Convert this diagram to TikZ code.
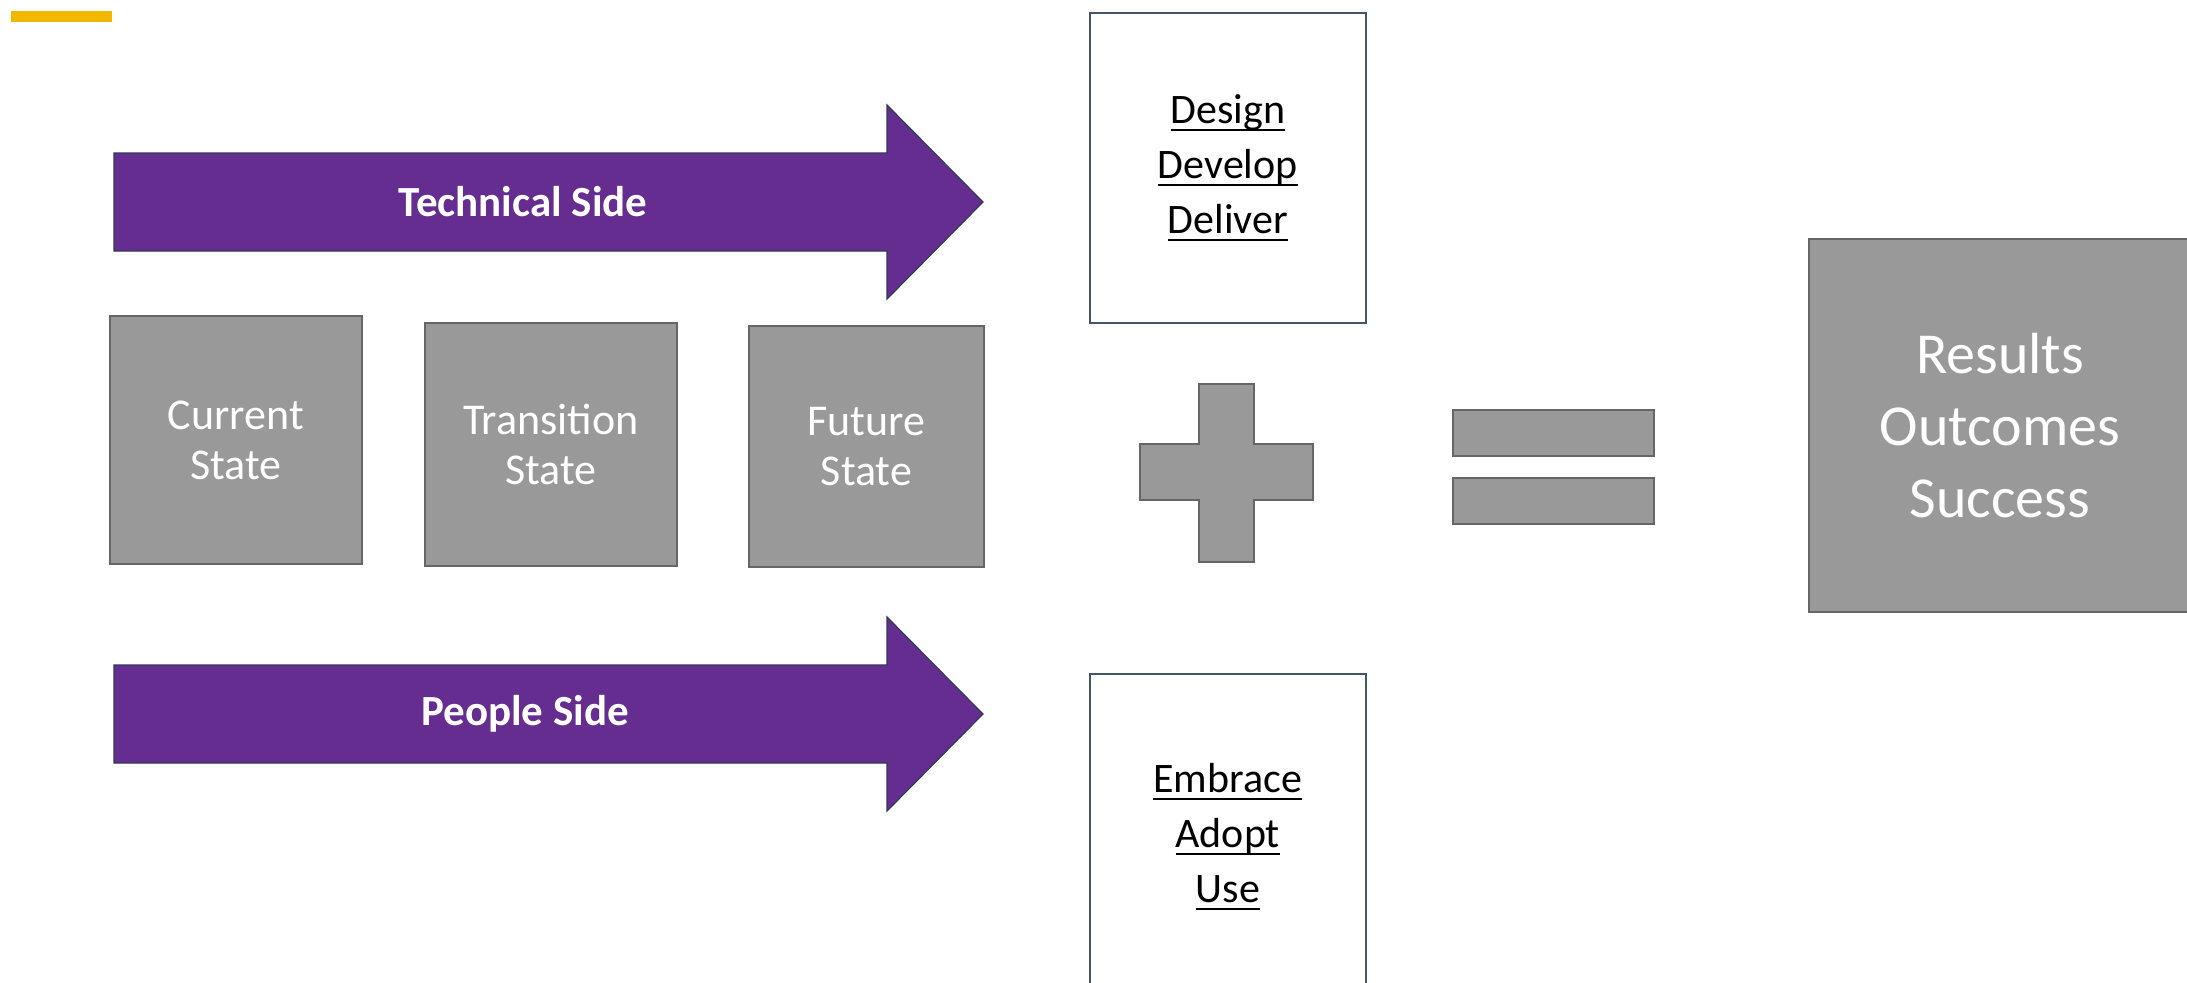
\documentclass[tikz,border=0pt]{standalone}
\usepackage{fontspec}
\setmainfont{Carlito}
\definecolor{bandpurple}{RGB}{102,45,145}
\definecolor{bandedge}{RGB}{47,58,90}
\definecolor{boxgray}{RGB}{153,153,153}
\definecolor{boxedge}{RGB}{102,102,102}
\definecolor{slate}{RGB}{68,84,106}
\definecolor{accent}{RGB}{242,184,0}
% underline at a fixed depth below the baseline
\newcommand\ulw[1]{\leavevmode\setbox0\hbox{#1}\rlap{\rule[-0.19em]{\wd0}{0.055em}}\box0}
\tikzset{
  graybox/.style={draw=boxedge, line width=1pt, fill=boxgray, anchor=north west,
    inner sep=0pt, align=center, text=white},
  statebox/.style={graybox, font=\fontsize{22}{25}\selectfont},
  whitebox/.style={draw=slate, line width=0.8pt, fill=white, anchor=north west,
    inner sep=0pt, align=center, text=black, font=\fontsize{21}{27.5}\selectfont},
  bar/.style={draw=boxedge, line width=1pt, fill=boxgray, anchor=north west, inner sep=0pt},
  band/.style={fill=bandpurple, draw=bandedge, line width=0.6pt},
  bandlabel/.style={text=white, font=\fontsize{21.5}{24}\selectfont\bfseries, inner sep=0pt},
}
\begin{document}
\begin{tikzpicture}[x=0.5pt, y=-0.5pt]
\useasboundingbox (0,0) rectangle (2187,982);
\fill[white] (0,0) rectangle (2187,982);

% accent mark in the corner
\fill[accent] (11,11) rectangle (112,22);

% the two sides as broad arrows
\draw[band] (114,153) -- (887,153) -- (887,105) -- (983,202) -- (887,299) -- (887,251) -- (114,251) -- cycle;
\node[bandlabel] (tech) at (523,202) {Technical Side};
\draw[band] (114,665) -- (887,665) -- (887,617) -- (983,714) -- (887,811) -- (887,763) -- (114,763) -- cycle;
\node[bandlabel] (people) at (525,714) {People Side};

% the three states
\node[statebox, minimum width=126pt, minimum height=124pt] (cur) at (109,315) {Current\\State};
\node[statebox, minimum width=126pt, minimum height=121.5pt] (trans) at (424,322) {Transition\\State};
\node[statebox, minimum width=117.5pt, minimum height=120.5pt] (fut) at (748,325) {Future\\State};

% what each side brings
\node[whitebox, minimum width=138pt, minimum height=155pt] (ddd) at (1089,12)
  {\ulw{Design}\\\ulw{Develop}\\\ulw{Deliver}};
\node[whitebox, minimum width=138pt, minimum height=163pt] (eau) at (1089,673)
  {\ulw{Embrace}\\\ulw{Adopt}\\\ulw{Use}};

% plus sign
\draw[draw=boxedge, line width=1pt, fill=boxgray]
  (1199,384) -- (1254,384) -- (1254,444) -- (1313,444) -- (1313,500) -- (1254,500)
  -- (1254,562) -- (1199,562) -- (1199,500) -- (1140,500) -- (1140,444) -- (1199,444) -- cycle;

% equals sign
\node[bar, minimum width=100.5pt, minimum height=23pt] (eqtop) at (1452,409) {};
\node[bar, minimum width=100.5pt, minimum height=23pt] (eqbot) at (1452,477) {};

% the result
\node[graybox, minimum width=191pt, minimum height=186.5pt,
  font=\fontsize{29}{36}\selectfont] (res) at (1808,238) {Results\\Outcomes\\Success};
\end{tikzpicture}
\end{document}
